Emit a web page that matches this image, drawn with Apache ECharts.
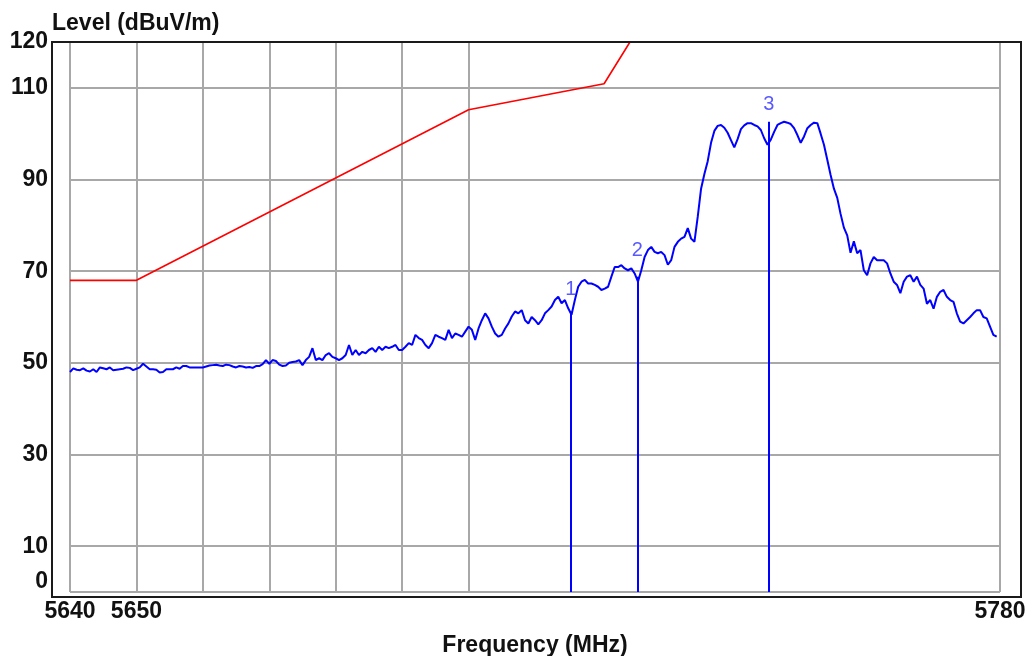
<!DOCTYPE html>
<html>
<head>
<meta charset="utf-8">
<title>Level vs Frequency</title>
<script src="https://cdn.jsdelivr.net/npm/echarts@6/dist/echarts.min.js"></script>
<style>
  html, body { margin: 0; padding: 0; background: #fff; }
  #chart { width: 1033px; height: 656px; }
</style>
</head>
<body>
<div id="chart"></div>
<script>
// sweep: 5640 MHz upwards, one reading every 0.5 MHz
var freqStart = 5640;
var freqStep = 0.5;
var levels = [
  48.0, 48.8, 48.5, 48.4, 48.8, 48.3, 48.1, 48.6, 48.0, 49.0,
  48.8, 48.6, 49.0, 48.4, 48.5, 48.6, 48.7, 49.0, 48.9, 48.4,
  48.7, 49.0, 49.8, 49.2, 48.6, 48.6, 48.5, 47.9, 48.0, 48.6,
  48.6, 48.6, 49.0, 48.7, 49.3, 49.3, 49.0, 49.0, 49.0, 49.0,
  49.0, 49.2, 49.4, 49.5, 49.6, 49.4, 49.3, 49.6, 49.5, 49.2,
  49.0, 49.3, 49.2, 49.0, 49.1, 48.9, 49.3, 49.3, 49.7, 50.6,
  49.8, 50.6, 50.4, 49.6, 49.3, 49.4, 50.0, 50.2, 50.3, 50.6,
  49.5, 50.6, 51.3, 53.2, 50.6, 51.0, 50.6, 51.7, 52.1, 51.3,
  51.0, 50.6, 51.0, 51.7, 53.9, 51.7, 52.8, 51.7, 52.4, 52.1,
  52.8, 53.2, 52.4, 53.5, 52.8, 53.5, 53.2, 53.5, 53.9, 52.8,
  52.8, 53.5, 54.3, 53.9, 56.1, 55.4, 55.0, 53.9, 53.2, 54.3,
  56.1, 55.7, 55.4, 55.0, 57.2, 55.4, 56.4, 56.1, 55.7, 56.8,
  57.9, 57.2, 55.0, 57.5, 59.3, 60.8, 59.7, 57.9, 56.4, 55.7,
  56.1, 57.5, 58.6, 60.1, 61.2, 60.8, 61.5, 59.3, 58.6, 60.0,
  59.3, 58.4, 59.3, 60.8, 61.5, 62.3, 63.7, 64.4, 63.0, 63.7,
  61.9, 60.5, 63.7, 66.6, 67.7, 68.1, 67.3, 67.3, 67.0, 66.6,
  65.9, 66.2, 66.6, 68.8, 70.9, 70.9, 71.3, 70.6, 70.2, 70.6,
  69.5, 67.7, 70.2, 73.1, 74.6, 75.3, 74.2, 73.9, 74.2, 73.5,
  71.4, 72.4, 75.3, 76.4, 77.1, 77.5, 79.4, 77.1, 76.4, 81.9,
  88.0, 91.2, 94.0, 98.0, 100.6, 101.7, 101.9, 101.3, 100.2, 98.6,
  97.0, 98.8, 101.0, 101.8, 102.3, 102.3, 101.9, 101.6, 100.8, 99.0,
  97.6, 98.7, 100.4, 101.9, 102.3, 102.6, 102.4, 102.1, 101.2, 99.7,
  98.0, 99.4, 101.2, 101.9, 102.4, 102.3, 100.0, 97.6, 94.3, 91.0,
  88.0, 86.0, 82.5, 79.5, 77.8, 74.0, 76.5, 73.9, 74.6, 70.2,
  69.1, 71.7, 73.1, 72.4, 72.4, 72.4, 71.7, 69.5, 67.7, 67.0,
  65.2, 67.7, 68.8, 69.1, 67.7, 68.8, 67.0, 66.2, 62.9, 63.7,
  61.8, 64.4, 65.5, 65.9, 64.4, 63.7, 63.3, 60.8, 59.0, 58.6,
  59.3, 60.0, 60.8, 61.5, 61.5, 60.0, 59.7, 57.9, 56.1, 55.7
];

// limit line corners [MHz, dBuV/m]
var limitLine = [[5640, 68], [5650, 68], [5700, 105.2], [5720.4, 110.9], [5724.3, 120]];

// markers
var markerNames = ['1', '2', '3'];
var markerFreqs = [5715.4, 5725.4, 5745.2];
var markerTops = [61.2, 68.8, 102.6];
var markerLabelLevels = [66.1, 74.6, 106.3];

// axes
var xGridValues = [5640, 5650, 5660, 5670, 5680, 5690, 5700, 5780];
var xLabelValues = [5640, 5650, 5780];
var yTickValues = [0, 10, 30, 50, 70, 90, 110, 120];

var font = 'Liberation Sans, Arial, sans-serif';

var traceData = levels.map(function (v, i) {
  return [freqStart + i * freqStep, v];
});

var chart = echarts.init(document.getElementById('chart'));

var option = {
  animation: false,
  backgroundColor: '#fff',
  title: {
    text: 'Level (dBuV/m)',
    left: 52,
    top: 12,
    padding: 0,
    textStyle: { fontFamily: font, fontSize: 23, fontWeight: 'bold', color: '#111' }
  },
  grid: { left: 70, right: 33, top: 42, bottom: 64, outerBoundsMode: 'none', containLabel: false },
  xAxis: {
    type: 'value',
    min: 5640,
    max: 5780,
    name: 'Frequency (MHz)',
    nameLocation: 'middle',
    nameGap: 42,
    nameTextStyle: { fontFamily: font, fontSize: 23, fontWeight: 'bold', color: '#111' },
    axisLine: { show: false },
    axisTick: { show: false, customValues: xGridValues },
    axisLabel: {
      customValues: xLabelValues,
      margin: 8,
      fontFamily: font, fontSize: 23, fontWeight: 'bold', color: '#111',
      formatter: function (v) { return String(v); }
    },
    splitLine: { show: true, lineStyle: { color: '#a8a8a8', width: 2 } }
  },
  yAxis: {
    type: 'value',
    min: 0,
    max: 120,
    axisLine: { show: false },
    axisTick: { show: false, customValues: yTickValues },
    axisLabel: {
      customValues: yTickValues,
      margin: 22,
      fontFamily: font, fontSize: 23, fontWeight: 'bold', color: '#111',
      formatter: function (v) {
        return v === 0 ? '{zero|0}' : String(v);
      },
      rich: {
        zero: { fontFamily: font, fontSize: 23, fontWeight: 'bold', color: '#111', padding: [0, 0, 20, 0] }
      }
    },
    splitLine: { show: true, lineStyle: { color: '#a8a8a8', width: 2 } }
  },
  graphic: [{
    type: 'rect',
    left: 51,
    top: 41,
    z: 100,
    shape: { width: 969, height: 555 },
    style: { fill: 'transparent', stroke: '#1a1a1a', lineWidth: 2 }
  }],
  series: [
    {
      name: 'Limit',
      type: 'line',
      data: limitLine,
      showSymbol: false,
      lineStyle: { color: '#ff0000', width: 1.6 },
      z: 3
    },
    {
      name: 'Level',
      type: 'line',
      data: traceData,
      showSymbol: false,
      lineStyle: { color: '#0000ff', width: 2 },
      z: 4
    },
    {
      name: 'Markers',
      type: 'scatter',
      symbolSize: 1,
      itemStyle: { color: 'rgba(0,0,0,0)' },
      data: markerFreqs.map(function (f, i) {
        return { name: markerNames[i], value: [f, markerLabelLevels[i]] };
      }),
      label: {
        show: true,
        position: 'inside',
        formatter: '{b}',
        fontFamily: font,
        fontSize: 20,
        color: '#3030ff'
      },
      markLine: {
        silent: true,
        symbol: 'none',
        label: { show: false },
        lineStyle: { color: '#0000ff', width: 2, type: 'solid' },
        data: markerFreqs.map(function (f, i) {
          return [{ coord: [f, 0] }, { coord: [f, markerTops[i]] }];
        })
      },
      z: 5
    }
  ]
};

chart.setOption(option);
</script>
</body>
</html>
